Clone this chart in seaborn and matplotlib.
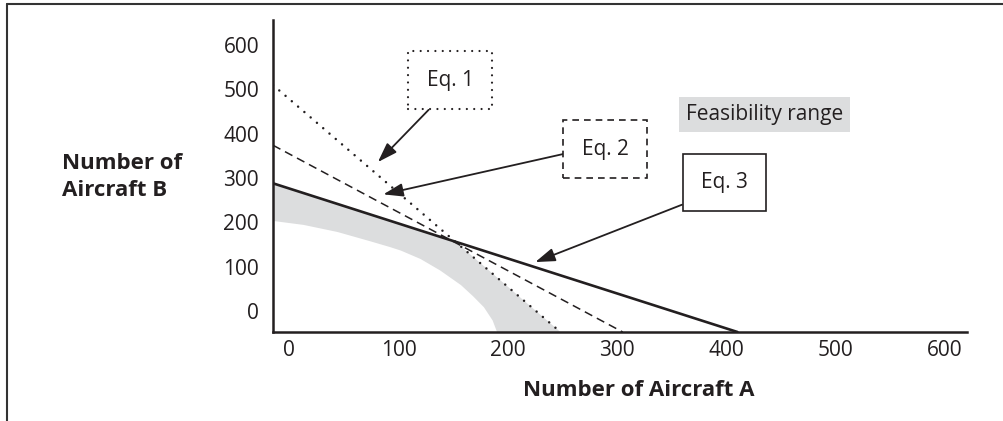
import numpy as np
import matplotlib
matplotlib.use("Agg")
import matplotlib.pyplot as plt
from matplotlib.lines import Line2D
import seaborn as sns

# Values (axis frame: spine corner sits at about (-15, -48))
eq1_x = [-15, 248]
eq1_y = [510, -48]
eq2_x = [-15, 305]
eq2_y = [374, -48]
eq3_x = [-15, 410]
eq3_y = [288, -48]

# feasibility band: upper edge follows Eq. 3 then Eq. 1, lower edge is a curve
band_top_x = [-15, 153, 248]
band_top_y = [288, 154, -48]
band_low_x = [-15, 13, 44, 74, 92, 102, 120, 138, 157, 168, 178, 186, 190]
band_low_y = [203, 194, 178, 157, 144, 136, 117, 91, 58, 33, 8, -22, -48]

ticks = [0, 100, 200, 300, 400, 500, 600]
tick_labels = ["0", "100", "200", "300", "400", "500", "600"]

sns.set_theme(style="white")
plt.rcParams["font.family"] = ["Open Sans", "DejaVu Sans"]
ink = "#231f20"
fs = 15

fig = plt.figure(figsize=(10.04, 4.21), dpi=100)
ax = fig.add_axes([0.2719, 0.2114, 0.6912, 0.7411])

# shaded feasibility range
poly_x = band_top_x + band_low_x[::-1]
poly_y = band_top_y + band_low_y[::-1]
ax.fill(poly_x, poly_y, color="#dcddde", lw=0, zorder=1)

sns.lineplot(x=eq1_x, y=eq1_y, ax=ax, color=ink, lw=1.8,
             linestyle=(0, (0.01, 3.3)), dash_capstyle="round", zorder=3)
sns.lineplot(x=eq2_x, y=eq2_y, ax=ax, color=ink, lw=1.1,
             linestyle=(0, (5.5, 3.4)), zorder=3)
sns.lineplot(x=eq3_x, y=eq3_y, ax=ax, color=ink, lw=1.9, zorder=3)

ax.set_xlim(-15, 620)
ax.set_ylim(-48, 657)
ax.set_xticks(ticks)
ax.set_xticklabels(tick_labels)
ax.set_yticks(ticks)
ax.set_yticklabels(tick_labels)
ax.tick_params(axis="both", length=0, labelsize=fs, labelcolor=ink)
ax.tick_params(axis="y", pad=10)
ax.tick_params(axis="x", pad=6)
sns.despine(ax=ax)
for side in ["left", "bottom"]:
    ax.spines[side].set_color(ink)
    ax.spines[side].set_linewidth(1.8)
ax.grid(False)

ax.set_xlabel("Number of Aircraft A", fontsize=16, fontweight="bold", color=ink)
ax.xaxis.set_label_coords(0.527, -0.186)
ax.xaxis.label.set_va("center")
ax.set_ylabel("Number of\nAircraft B", fontsize=16, fontweight="bold", color=ink,
              rotation=0, ha="left", va="center", linespacing=1.4)
ax.yaxis.set_label_coords(-0.304, 0.497)

arrow = "-|>,head_length=0.8,head_width=0.27"

ax.annotate("Eq. 1", xy=(81, 336), xytext=(147, 521), fontsize=fs, color=ink,
            ha="center", va="center",
            bbox=dict(boxstyle="square,pad=0.88", fc="white", ec=ink, lw=1.6,
                      linestyle=(0, (0.01, 3.3)), capstyle="round"),
            arrowprops=dict(arrowstyle=arrow, color=ink, lw=1.3, shrinkA=0,
                            shrinkB=0, relpos=(0.44, 0)))
ax.annotate("Eq. 2", xy=(86, 263), xytext=(289, 365), fontsize=fs, color=ink,
            ha="center", va="center",
            bbox=dict(boxstyle="square,pad=0.88", fc="white", ec=ink, lw=1.2,
                      linestyle=(0, (4, 3))),
            arrowprops=dict(arrowstyle=arrow, color=ink, lw=1.3, shrinkA=0,
                            shrinkB=0, relpos=(0, 0.47)))
ax.annotate("Eq. 3", xy=(225, 110), xytext=(398, 290), fontsize=fs, color=ink,
            ha="center", va="center",
            bbox=dict(boxstyle="square,pad=0.88", fc="white", ec=ink, lw=1.2),
            arrowprops=dict(arrowstyle=arrow, color=ink, lw=1.3, shrinkA=0,
                            shrinkB=0, relpos=(0.24, 0)))
ax.text(435, 444, "Feasibility range", fontsize=fs, color=ink, ha="center", va="center",
        bbox=dict(boxstyle="square,pad=0.33", fc="#dcddde", ec="none"))

# page frame: top and left rules only
fig.add_artist(Line2D([0.007, 1.0], [0.9905, 0.9905], color="#333333", lw=1.5))
fig.add_artist(Line2D([0.007, 0.007], [0.0, 0.9905], color="#333333", lw=1.5))

fig.savefig("out.png", dpi=100)
